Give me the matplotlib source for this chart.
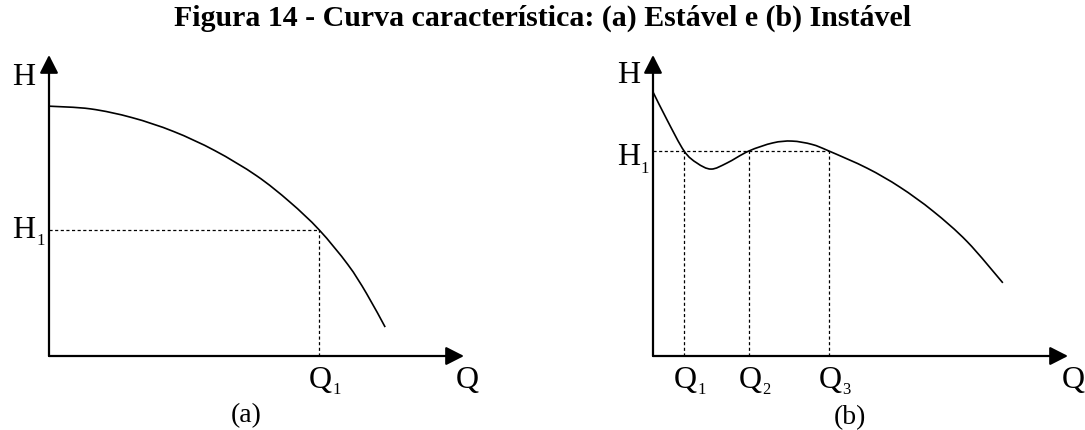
import matplotlib

matplotlib.use("Agg")
import matplotlib.pyplot as plt
import numpy as np
from matplotlib.patches import PathPatch
from matplotlib.path import Path

plt.rcParams["font.family"] = ["Liberation Serif", "DejaVu Serif"]

TITLE = "Figura 14 - Curva característica: (a) Estável e (b) Instável"

# (a) curva estável: vazão Q x altura H (unidades arbitrárias)
q_estavel = [0, 10, 20, 30, 40, 50, 58, 65.1, 72, 76.5, 81]
h_estavel = [83, 82.1, 79.2, 74.6, 68.2, 59.9, 51.2, 41.9, 30.4, 20.8, 9.6]
q1_estavel = 65.1
h1_estavel = 41.9

# (b) curva instável
q_instavel = [0, 3.4, 7.5, 10.6, 14.0, 17.8, 23.1, 28.9, 33.5, 38.3, 42.4,
              51.6, 59.5, 67.5, 75.7, 84.3]
h_instavel = [87.7, 78.4, 68.1, 64.1, 62.1, 64.1, 68.1, 70.8, 71.4, 70.3, 68.1,
              62.4, 56.1, 48.1, 38.0, 24.3]
q_marcas_instavel = [7.5, 23.1, 42.4]
h1_instavel = 68.1
rotulos_q = ["1", "2", "3"]

W, H = 1085, 430
AX_W, AX_H = 415, 301
LETRA = 23
INDICE = 12
PONTILHADO = dict(color="k", lw=0.9, linestyle=(0, (2.5, 2)), clip_on=False)


def curva(ax, xs, ys):
    # passa uma curva de Bézier (Catmull-Rom) por todos os pontos lidos
    p = np.column_stack([xs, ys]).astype(float)
    n = len(p)
    verts = [p[0]]
    codes = [Path.MOVETO]
    for i in range(n - 1):
        p0 = p[max(i - 1, 0)]
        p1, p2 = p[i], p[i + 1]
        p3 = p[min(i + 2, n - 1)]
        verts += [p1 + (p2 - p0) / 6, p2 - (p3 - p1) / 6, p2]
        codes += [Path.CURVE4] * 3
    ax.add_patch(PathPatch(Path(verts, codes), fill=False, ec="k", lw=1.2,
                           clip_on=False))


def eixos(fig, x0):
    ax = fig.add_axes([x0 / W, (H - 356) / H, AX_W / W, AX_H / H])
    ax.set_xlim(0, 100)
    ax.set_ylim(0, 100)
    ax.axis("off")
    seta = dict(arrowstyle="-|>,head_length=0.55,head_width=0.28",
                mutation_scale=20, lw=1.6, color="k", shrinkA=0, shrinkB=0)
    ax.annotate("", xy=(0, 100), xytext=(0, 0), arrowprops=seta, annotation_clip=False)
    ax.annotate("", xy=(100, 0), xytext=(0, 0), arrowprops=seta, annotation_clip=False)
    return ax


def letra(ax, x, y, txt, ha="center"):
    ax.text(x, y, txt, fontsize=LETRA, ha=ha, va="baseline", clip_on=False)


def indice(ax, x, y, txt):
    ax.text(x, y, txt, fontsize=INDICE, ha="left", va="baseline", clip_on=False)


fig = plt.figure(figsize=(W / 100, H / 100), dpi=100)
fig.text(0.5, 1 - 18 / H, TITLE, fontsize=21.5, fontweight="bold",
         ha="center", va="center")

# (a) estável
ax_a = eixos(fig, 49)
curva(ax_a, q_estavel, h_estavel)
ax_a.plot([0, q1_estavel], [h1_estavel, h1_estavel], **PONTILHADO)
ax_a.plot([q1_estavel, q1_estavel], [0, h1_estavel], **PONTILHADO)
letra(ax_a, -6.1, 90.0, "H")
letra(ax_a, -6.1, 39.2, "H")
indice(ax_a, -2.9, 36.9, "1")
letra(ax_a, q1_estavel + 0.2, -10.6, "Q")
indice(ax_a, q1_estavel + 3.2, -12.6, "1")
letra(ax_a, 100.7, -10.6, "Q")
ax_a.text(47.5, -19.8, "(a)", fontsize=20, ha="center", va="center", clip_on=False)

# (b) instável
ax_b = eixos(fig, 653)
curva(ax_b, q_instavel, h_instavel)
ax_b.plot([0, max(q_marcas_instavel)], [h1_instavel, h1_instavel], **PONTILHADO)
for q, r in zip(q_marcas_instavel, rotulos_q):
    ax_b.plot([q, q], [0, h1_instavel], **PONTILHADO)
    letra(ax_b, q + 0.3, -10.6, "Q")
    indice(ax_b, q + 3.2, -12.6, r)
letra(ax_b, -5.9, 90.7, "H")
letra(ax_b, -5.9, 63.5, "H")
indice(ax_b, -2.9, 60.8, "1")
letra(ax_b, 98.6, -10.6, "Q", ha="left")
ax_b.text(47.5, -20.6, "(b)", fontsize=20, ha="center", va="center", clip_on=False)

fig.savefig("out.png", dpi=100)
